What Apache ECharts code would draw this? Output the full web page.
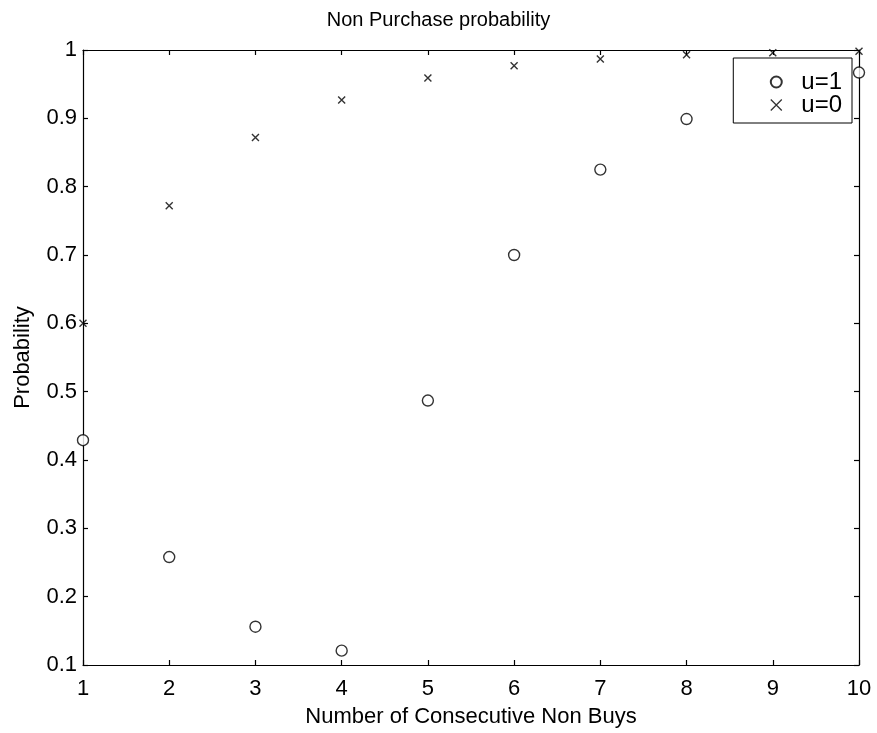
<!DOCTYPE html>
<html>
<head>
<meta charset="utf-8">
<script src="https://cdn.jsdelivr.net/npm/echarts@6/dist/echarts.min.js"></script>
<style>
  html, body { margin: 0; padding: 0; background: #fff; }
  #chart { width: 877px; height: 733px; }
</style>
</head>
<body>
<div id="chart"></div>
<script>
// Number of consecutive non-buys (x) and the non-purchase probability for each utility level
const nonBuys = [1, 2, 3, 4, 5, 6, 7, 8, 9, 10];
const probU1 = [0.429, 0.258, 0.156, 0.121, 0.487, 0.700, 0.825, 0.899, 0.945, 0.967];
const probU0 = [0.600, 0.772, 0.872, 0.927, 0.959, 0.977, 0.987, 0.993, 0.996, 0.998];
const xTicks = [1, 2, 3, 4, 5, 6, 7, 8, 9, 10];
const yTicks = [0.1, 0.2, 0.3, 0.4, 0.5, 0.6, 0.7, 0.8, 0.9, 1];

const FONT = 'Liberation Sans, Arial, sans-serif';
const CROSS = 'path://M0,0L10,10M10,0L0,10';

function pairs(xs, ys) {
  return xs.map((x, i) => [x, ys[i]]);
}

const chart = echarts.init(document.getElementById('chart'), null, { renderer: 'canvas' });

const tickFmtY = v => {
  const r = Math.round(v * 10) / 10;
  return r === 1 ? '1' : r.toFixed(1);
};

const baseAxisLine = { show: true, lineStyle: { color: '#000', width: 1.2 } };
const baseTick = { show: true, inside: true, length: 5, lineStyle: { color: '#000', width: 1.2 } };

chart.setOption({
  backgroundColor: '#fff',
  animation: false,
  title: {
    text: 'Non Purchase probability',
    left: 'center',
    top: 5,
    textStyle: { fontFamily: FONT, fontSize: 20, fontWeight: 'normal', color: '#000' }
  },
  grid: { left: 83, right: 18, top: 50, bottom: 62 },
  legend: {
    orient: 'vertical',
    right: 25,
    top: 58,
    backgroundColor: '#fff',
    borderColor: '#000',
    borderWidth: 1,
    borderRadius: 0,
    padding: [12, 10, 6, 35],
    itemGap: -1,
    itemWidth: 40,
    itemHeight: 11,
    textStyle: { fontFamily: FONT, fontSize: 24, color: '#000' },
    data: [
      { name: 'u=1', icon: 'circle' },
      { name: 'u=0', icon: CROSS, itemStyle: { color: 'none', borderColor: '#000', borderWidth: 1.3 } }
    ]
  },
  xAxis: [
    {
      type: 'value',
      min: 1, max: 10, interval: 1,
      name: 'Number of Consecutive Non Buys',
      nameLocation: 'middle',
      nameGap: 41,
      nameTextStyle: { fontFamily: FONT, fontSize: 22, color: '#000' },
      axisLine: baseAxisLine,
      axisTick: baseTick,
      splitLine: { show: false },
      axisLabel: {
        fontFamily: FONT, fontSize: 22, color: '#000', margin: 13,
        formatter: v => (xTicks.includes(v) ? String(v) : '')
      }
    },
    {
      type: 'value', position: 'top',
      min: 1, max: 10, interval: 1,
      axisLine: baseAxisLine, axisTick: baseTick,
      axisLabel: { show: false }, splitLine: { show: false }
    }
  ],
  yAxis: [
    {
      type: 'value',
      min: 0.1, max: 1, interval: 0.1,
      name: 'Probability',
      nameLocation: 'middle',
      nameGap: 49,
      nameTextStyle: { fontFamily: FONT, fontSize: 22, color: '#000' },
      axisLine: baseAxisLine,
      axisTick: baseTick,
      splitLine: { show: false },
      axisLabel: {
        fontFamily: FONT, fontSize: 22, color: '#000', margin: 6,
        formatter: v => {
          const r = Math.round(v * 10) / 10;
          return yTicks.some(t => Math.abs(t - r) < 1e-9) ? tickFmtY(v) : '';
        }
      }
    },
    {
      type: 'value', position: 'right',
      min: 0.1, max: 1, interval: 0.1,
      axisLine: baseAxisLine, axisTick: baseTick,
      axisLabel: { show: false }, splitLine: { show: false }
    }
  ],
  series: [
    {
      name: 'u=1',
      type: 'scatter',
      clip: false,
      symbol: 'circle',
      symbolSize: 11,
      itemStyle: { color: '#fff', borderColor: '#000', borderWidth: 1.4 },
      data: pairs(nonBuys, probU1),
      z: 2
    },
    {
      name: 'u=0',
      type: 'scatter',
      clip: false,
      symbol: CROSS,
      symbolSize: 7,
      itemStyle: { color: 'none', borderColor: '#000', borderWidth: 1.4 },
      data: pairs(nonBuys, probU0),
      z: 2
    }
  ]
});
</script>
</body>
</html>
